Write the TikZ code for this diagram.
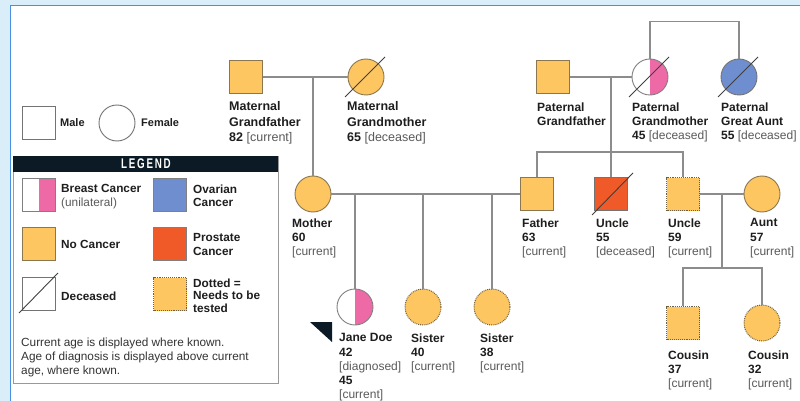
\documentclass[tikz,border=0pt]{standalone}
\usepackage{fontspec}
\usepackage{graphicx}
\setmainfont{Liberation Sans}
\definecolor{bgblue}{HTML}{DAEEF9}
\definecolor{panelblue}{HTML}{4A90E2}
\definecolor{yel}{HTML}{FDC660}
\definecolor{pinkc}{HTML}{EE6AA7}
\definecolor{bluec}{HTML}{6F8ED0}
\definecolor{orangec}{HTML}{F05A28}
\definecolor{outl}{HTML}{8A7750}
\definecolor{conn}{HTML}{8C8C8C}
\definecolor{navy}{HTML}{0B1A24}
\definecolor{txt}{HTML}{1E1E1E}
\definecolor{brk}{HTML}{5A5A5A}
\newcommand\bracktxt[1]{{\mdseries\color{brk}[#1]}}
\tikzset{
  male/.style={rectangle, minimum size=33pt, inner sep=0pt, draw=outl, line width=0.9pt, fill=yel},
  female/.style={circle, minimum size=36pt, inner sep=0pt, draw=outl, line width=0.9pt, fill=yel},
  totest/.style={densely dotted, line width=1pt, draw=outl!80!black},
  halfpink/.style={fill=white, draw=gray, path picture={\fill[pinkc] (path picture bounding box.north) rectangle (path picture bounding box.south east);}},
  blank/.style={fill=white, draw=gray!90!black},
  link/.style={draw=conn, line width=1.2pt},
  decl/.style={draw=black!75, line width=0.9pt},
  lab/.style={anchor=north west, align=left, inner sep=0pt, text=txt, font=\fontsize{12.5}{15.5}\selectfont\bfseries},
  labs/.style={anchor=north west, align=left, inner sep=0pt, text=txt, font=\fontsize{12}{14.2}\selectfont\bfseries},
  leg/.style={anchor=north west, align=left, inner sep=0pt, text=txt, font=\fontsize{11.8}{13.5}\selectfont\bfseries},
  legone/.style={anchor=base west, inner sep=0pt, text=txt, font=\fontsize{11.8}{13.5}\selectfont\bfseries},
}
\begin{document}
\begin{tikzpicture}[x=1pt,y=-1pt]
\useasboundingbox (0,0) rectangle (800,401);
\fill[bgblue] (0,0) rectangle (800,401);
\draw[panelblue, line width=1.6pt, fill=white] (10.5,5.5) rectangle (812,412);

% ---------- legend top ----------
\node[male, blank] (lmale) at (38.5,122.5) {};
\node[legone, font=\fontsize{11}{13}\selectfont\bfseries] (tmale) at (60,127) {Male};
\node[female, blank] (lfem) at (117,123) {};
\node[legone, font=\fontsize{11}{13}\selectfont\bfseries] (tfem) at (141,127) {Female};

% ---------- legend box ----------
\draw[gray!80, line width=0.8pt, fill=white] (13,156) rectangle (278,383);
\fill[navy] (13,156) rectangle (278,172);
\node[text=white, inner sep=0pt] (legtitle) at (146,164) {\scalebox{0.7}[1]{\fontsize{14}{14}\selectfont\bfseries L\hspace{2.5pt}E\hspace{2.5pt}G\hspace{2.5pt}E\hspace{2.5pt}N\hspace{2.5pt}D}};

\node[male, halfpink] (sbreast) at (38.5,194.5) {};
\node[leg] (tbreast) at (61,184.5) {Breast Cancer\\{\mdseries\color{brk}(unilateral)}};
\node[male, fill=bluec, draw=gray] (sovar) at (169.5,194.5) {};
\node[leg] (tovar) at (193,184.5) {Ovarian\\Cancer};
\node[male] (snone) at (38.5,244) {};
\node[legone] (tnone) at (61,248) {No Cancer};
\node[male, fill=orangec, draw=gray] (spros) at (169.5,244) {};
\node[leg] (tpros) at (193,233.5) {Prostate\\Cancer};
\node[male, blank] (sdec) at (39,294) {};
\draw[decl] ([shift={(-20,19)}]sdec.center) -- ([shift={(19,-21)}]sdec.center);
\node[legone] (tdec) at (61,300) {Deceased};
\node[male, totest] (sdot) at (170,294) {};
\node[leg, font=\fontsize{11.8}{12.6}\selectfont\bfseries] (tdot) at (193,278.5) {Dotted =\\Needs to be\\tested};
\node[anchor=north west, align=left, inner sep=0pt, text=black!80, font=\fontsize{11.8}{14}\selectfont] (tnote) at (21,337.5) {Current age is displayed where known.\\Age of diagnosis is displayed above current\\age, where known.};

% ---------- maternal side ----------
\node[male] (mgf) at (246,77) {};
\node[female] (mgm) at (366,77) {};
\node[lab] (tmgf) at (229,101.5) {Maternal\\Grandfather\\82 \bracktxt{current}};
\node[lab] (tmgm) at (347,101.5) {Maternal\\Grandmother\\65 \bracktxt{deceased}};
\node[female] (mother) at (313,194) {};
\node[labs] (tmother) at (292,218.4) {Mother\\60\\\bracktxt{current}};

% ---------- paternal side ----------
\node[male] (pgf) at (553,77) {};
\node[female, halfpink] (pgm) at (650,77) {};
\node[female, fill=bluec, draw=gray!90!black] (pga) at (739,77) {};
\node[labs] (tpgf) at (537,102.4) {Paternal\\Grandfather};
\node[labs] (tpgm) at (632,102.4) {Paternal\\Grandmother\\45 \bracktxt{deceased}};
\node[labs] (tpga) at (721,102.4) {Paternal\\Great Aunt\\55 \bracktxt{deceased}};

\node[male] (father) at (537,194) {};
\node[male, fill=orangec, draw=gray!90!black] (uncle1) at (611,194) {};
\node[male, totest] (uncle2) at (683,194) {};
\node[female] (aunt) at (762,194) {};
\node[labs] (tfather) at (522,218.4) {Father\\63\\\bracktxt{current}};
\node[labs] (tuncle1) at (596,218.4) {Uncle\\55\\\bracktxt{deceased}};
\node[labs] (tuncle2) at (668,218.4) {Uncle\\59\\\bracktxt{current}};
\node[labs] (taunt) at (750,218.4) {Aunt\\57\\\bracktxt{current}};

% ---------- children ----------
\node[female, halfpink] (jane) at (355,307) {};
\node[female, totest] (sis1) at (423,307) {};
\node[female, totest] (sis2) at (492,307) {};
\node[labs] (tjane) at (339,333.4) {Jane Doe\\42\\\bracktxt{diagnosed}\\45\\\bracktxt{current}};
\node[labs] (tsis1) at (411,333.4) {Sister\\40\\\bracktxt{current}};
\node[labs] (tsis2) at (480,333.4) {Sister\\38\\\bracktxt{current}};
\fill[navy] (310,322) -- (332,322) -- (332,342) -- cycle;

\node[male, totest] (cous1) at (683,323) {};
\node[female, totest] (cous2) at (762,323) {};
\node[labs] (tcous1) at (668,350.4) {Cousin\\37\\\bracktxt{current}};
\node[labs] (tcous2) at (748,350.4) {Cousin\\32\\\bracktxt{current}};

% ---------- connectors ----------
\coordinate (mj) at (313,77);
\draw[link] (mgf.east) -- (mgm.west);
\draw[link] (mj) -- (mother.north);
\draw[link] (mother.east) -- (father.west);
\coordinate (d1) at (355,194);
\coordinate (d2) at (423,194);
\coordinate (d3) at (492,194);
\draw[link] (d1) -- (jane.north);
\draw[link] (d2) -- (sis1.north);
\draw[link] (d3) -- (sis2.north);

\draw[link] (pgf.east) -- (pgm.west);
\draw[link] (pgm.north) -- ++(0,-37) -| (pga.north);
\coordinate (pj) at (611,77);
\coordinate (sib) at (611,152);
\draw[link] (pj) -- (uncle1.north);
\draw[link] (father.north) |- (sib) -| (uncle2.north);

\draw[link] (uncle2.east) -- (aunt.west);
\coordinate (ua) at (722,194);
\coordinate (cs) at (722,268);
\draw[link] (ua) -- (cs);
\draw[link] (cous1.north) |- (cs) -| (cous2.north);

% ---------- deceased marks ----------
\draw[decl] ([shift={(-21,20)}]mgm.center) -- ([shift={(19,-20)}]mgm.center);
\draw[decl] ([shift={(-21,20)}]pgm.center) -- ([shift={(19,-20)}]pgm.center);
\draw[decl] ([shift={(-21,20)}]pga.center) -- ([shift={(19,-20)}]pga.center);
\draw[decl] ([shift={(-19,21)}]uncle1.center) -- ([shift={(22,-21)}]uncle1.center);
\end{tikzpicture}
\end{document}
